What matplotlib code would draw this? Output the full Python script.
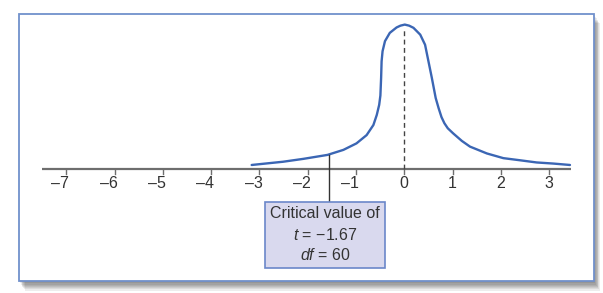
import matplotlib
matplotlib.use("Agg")
import matplotlib.pyplot as plt
from matplotlib.patches import Rectangle

plt.rcParams['font.family'] = ['Liberation Sans', 'DejaVu Sans']
plt.rcParams['mathtext.fontset'] = 'custom'
plt.rcParams['mathtext.rm'] = 'Liberation Sans'
plt.rcParams['mathtext.it'] = 'Liberation Sans:italic'

# curve (t value, height)
t_vals = [-3.16, -2.51, -2.09, -1.59, -1.26, -0.99, -0.78, -0.64, -0.57, -0.52,
          -0.495, -0.48, -0.47, -0.45, -0.40, -0.30, -0.16, -0.08, 0.01, 0.10,
          0.19, 0.33, 0.43, 0.50, 0.57, 0.65, 0.71, 0.77, 0.83, 0.90, 1.01, 1.19,
          1.36, 1.71, 2.05, 2.40, 2.74, 3.08, 3.43]
dens = [0.012, 0.021, 0.029, 0.040, 0.054, 0.072, 0.095, 0.123, 0.151, 0.179,
        0.205, 0.254, 0.300, 0.328, 0.356, 0.379, 0.394, 0.399, 0.402, 0.399,
        0.393, 0.374, 0.346, 0.300, 0.254, 0.198, 0.170, 0.145, 0.128, 0.114, 0.100,
        0.079, 0.063, 0.044, 0.031, 0.025, 0.019, 0.016, 0.012]
ticks = [-7, -6, -5, -4, -3, -2, -1, 0, 1, 2, 3]
crit_t = -1.56
box_lines = ["Critical value of", "$t$ = \u22121.67", "$df$ = 60"]

W, H = 603, 293
fig = plt.figure(figsize=(W / 100, H / 100), dpi=100)

def fx(px):
    return px / W

def fy(py):
    return 1 - py / H

# drop shadow and frame
for i in range(8, 0, -1):
    fig.patches.append(Rectangle((fx(18.5 + i * 0.8), fy(281 + i * 1.2)),
                                 fx(575), 1 - fy(281 - 13.5),
                                 transform=fig.transFigure, facecolor='#000000',
                                 alpha=0.07, edgecolor='none', zorder=0))
fig.patches.append(Rectangle((fx(18.5), fy(281)), fx(575), 1 - fy(281 - 13.5),
                             transform=fig.transFigure, facecolor='white',
                             edgecolor='#7191cc', linewidth=1.3, zorder=1))

ax = fig.add_axes([0, 0, 1, 1])
ax.set_facecolor('none')
ax.set_zorder(2)
x0, sx = 404.3, 48.3
y0, sy = 169.3, 360.0
ax.set_xlim((0 - x0) / sx, (W - x0) / sx)
ax.set_ylim((y0 - H) / sy, y0 / sy)
ax.axis('off')

# baseline axis with ticks
ax.plot([(42 - x0) / sx, (571 - x0) / sx], [0, 0], color='#6e6e6e', lw=1.6,
        solid_capstyle='butt')
for t in ticks:
    ax.plot([t, t], [0, -4.5 / sy], color='#6e6e6e', lw=1)
    lbl = str(t).replace('-', '\u2013')
    ax.text(t - 0.12 if t < 0 else t, -14 / sy, lbl, ha='center', va='center',
            fontsize=11.5, color='#333333')

ax.plot(t_vals, dens, color='#3b66b4', lw=1.7, solid_capstyle='round',
        solid_joinstyle='round')

# mean line
ax.plot([0, 0], [0, max(dens) - 0.01], color='#444444', lw=1,
        linestyle=(0, (3.5, 2.5)))

# critical value pointer and box
ax.plot([crit_t, crit_t], [0.04, (y0 - 202) / sy], color='#333333', lw=1)
fig.patches.append(Rectangle((fx(265), fy(267.7)), fx(384.6 - 265), 1 - fy(267.7 - 202),
                             transform=fig.transFigure, facecolor='#d9d9ee',
                             edgecolor='#6b87c9', linewidth=1.2, zorder=3))
for i, s in enumerate(box_lines):
    fig.text(fx(325), fy(214 + i * 20.5), s, ha='center', va='center',
             fontsize=11.5, color='#333333', zorder=4)

fig.savefig('out.png', dpi=100)
